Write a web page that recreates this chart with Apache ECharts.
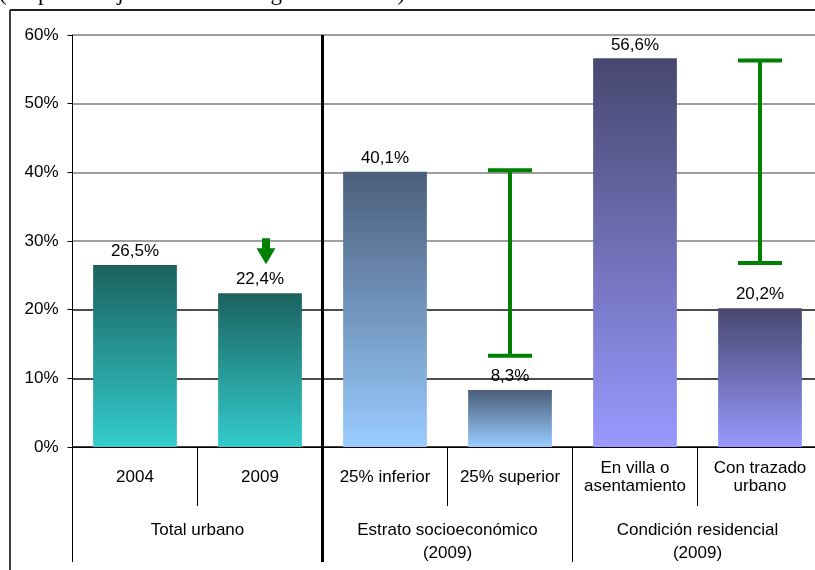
<!DOCTYPE html>
<html>
<head>
<meta charset="utf-8">
<script src="https://cdn.jsdelivr.net/npm/echarts@6/dist/echarts.min.js"></script>
<style>
html,body{margin:0;padding:0;background:#fff;}
#chart{width:815px;height:570px;}
</style>
</head>
<body>
<div id="chart"></div>
<script>
// ---- data ----
const categories = ['2004', '2009', '25% inferior', '25% superior', 'En villa o\nasentamiento', 'Con trazado\nurbano'];
const groups = ['Total urbano', 'Estrato socioeconómico\n(2009)', 'Condición residencial\n(2009)'];
const values = [26.5, 22.4, 40.1, 8.3, 56.6, 20.2];
const groupOfCategory = [0, 0, 1, 1, 2, 2];
// gap brackets: [category index, upper value, lower value]
const gaps = [[3, 40.3, 13.3], [5, 56.3, 26.8]];
// downward arrow: [category index, start value, tip value]
const arrows = [[1, 30.4, 26.6]];
const yMin = 0, yMax = 60, yStep = 10;
const titleText = '(En porcentaje del total de hogares urbanos)';

// ---- styles ----
const palettes = [
  ['#1b625f', '#33cccc'],
  ['#4a5e7a', '#99ccff'],
  ['#47476f', '#9999ff']
];
const FONT = '"Liberation Sans", Arial, sans-serif';
const FS = 17;
const GREEN = '#008000';

const chart = echarts.init(document.getElementById('chart'), null, {renderer: 'canvas'});

const barData = values.map((v, i) => {
  const p = palettes[groupOfCategory[i]];
  return {
    value: v,
    itemStyle: {
      color: new echarts.graphic.LinearGradient(0, 0, 0, 1, [
        {offset: 0, color: p[0]},
        {offset: 1, color: p[1]}
      ])
    }
  };
});

const option = {
  animation: false,
  backgroundColor: '#ffffff',
  grid: {left: 72.5, width: 750, top: 35, height: 412, containLabel: false, outerBoundsMode: 'none'},
  xAxis: [
    {
      type: 'category',
      data: categories,
      position: 'bottom',
      axisLine: {show: true, lineStyle: {color: '#000', width: 1}},
      axisTick: {show: true, length: 59, lineStyle: {color: '#000', width: 1}},
      axisLabel: {
        color: '#000', fontFamily: FONT, fontSize: FS, lineHeight: 18,
        margin: 30, verticalAlign: 'middle', interval: 0
      },
      splitLine: {show: false}
    },
    {
      type: 'category',
      data: groups,
      position: 'bottom',
      axisLine: {show: false},
      axisTick: {show: true, length: 115, lineStyle: {color: '#000', width: 1}},
      axisLabel: {
        color: '#000', fontFamily: FONT, fontSize: FS, lineHeight: 23,
        margin: 72, interval: 0
      },
      splitLine: {show: false}
    }
  ],
  yAxis: {
    type: 'value',
    min: yMin, max: yMax, interval: yStep,
    axisLine: {show: true, lineStyle: {color: '#000', width: 1}},
    axisTick: {show: true, length: 5, lineStyle: {color: '#000'}},
    axisLabel: {
      color: '#000', fontFamily: FONT, fontSize: FS, margin: 14,
      formatter: v => v + '%'
    },
    splitLine: {
      show: true,
      lineStyle: {color: ['#000', '#111', '#111', '#7f7f7f', '#7f7f7f', '#7f7f7f', '#7f7f7f'], width: 1.5}
    }
  },
  series: [
    {
      type: 'bar',
      xAxisIndex: 0,
      data: barData,
      barWidth: '67%',
      label: {
        show: true, position: 'top', distance: 5,
        color: '#000', fontFamily: FONT, fontSize: FS,
        formatter: p => p.value.toFixed(1).replace('.', ',') + '%'
      },
      z: 2
    },
    {
      type: 'custom',
      xAxisIndex: 0,
      data: gaps,
      z: 5,
      renderItem: function (params, api) {
        const x = api.value(0);
        const top = api.coord([x, api.value(1)]);
        const bot = api.coord([x, api.value(2)]);
        const hw = 22;
        const st = {stroke: GREEN, lineWidth: 4};
        return {
          type: 'group',
          children: [
            {type: 'line', shape: {x1: top[0], y1: top[1], x2: bot[0], y2: bot[1]}, style: st},
            {type: 'line', shape: {x1: top[0] - hw, y1: top[1], x2: top[0] + hw, y2: top[1]}, style: st},
            {type: 'line', shape: {x1: bot[0] - hw, y1: bot[1], x2: bot[0] + hw, y2: bot[1]}, style: st}
          ]
        };
      }
    },
    {
      type: 'custom',
      xAxisIndex: 0,
      data: arrows,
      z: 5,
      renderItem: function (params, api) {
        const x = api.value(0);
        const a = api.coord([x, api.value(1)]);
        const b = api.coord([x, api.value(2)]);
        const cx = a[0] + 6; // drawn slightly right of the bar centre, as in the original
        const sw = 4, hw = 9.5, headLen = 16;
        const yh = b[1] - headLen;
        return {
          type: 'polygon',
          shape: {points: [
            [cx - sw, a[1]], [cx + sw, a[1]], [cx + sw, yh], [cx + hw, yh],
            [cx, b[1]], [cx - hw, yh], [cx - sw, yh]
          ]},
          style: {fill: GREEN}
        };
      }
    }
  ]
};

chart.setOption(option);

// thick separator between the first and second group, placed through the axis scale
const xa = chart.convertToPixel({xAxisIndex: 0}, categories[1]);
const xb = chart.convertToPixel({xAxisIndex: 0}, categories[2]);
const sepX = (xa + xb) / 2;
const yTop = chart.convertToPixel({yAxisIndex: 0}, yMax);
const yZero = chart.convertToPixel({yAxisIndex: 0}, yMin);

chart.setOption({
  graphic: [
    {
      type: 'line', silent: true, z: 0,
      shape: {x1: 10, y1: 10, x2: 815, y2: 10},
      style: {stroke: '#222', lineWidth: 2}
    },
    {
      type: 'line', silent: true, z: 0,
      shape: {x1: 10, y1: 10, x2: 10, y2: 570},
      style: {stroke: '#3f3f3f', lineWidth: 2}
    },
    {
      type: 'text', silent: true, left: -1, top: -18,
      style: {text: titleText, fontFamily: '"Liberation Serif", "Times New Roman", serif', fontSize: 23, fill: '#000'}
    },
    {
      type: 'line', silent: true, z: 10,
      shape: {x1: sepX, y1: yTop, x2: sepX, y2: yZero + 115},
      style: {stroke: '#000', lineWidth: 3}
    }
  ]
});
</script>
</body>
</html>
